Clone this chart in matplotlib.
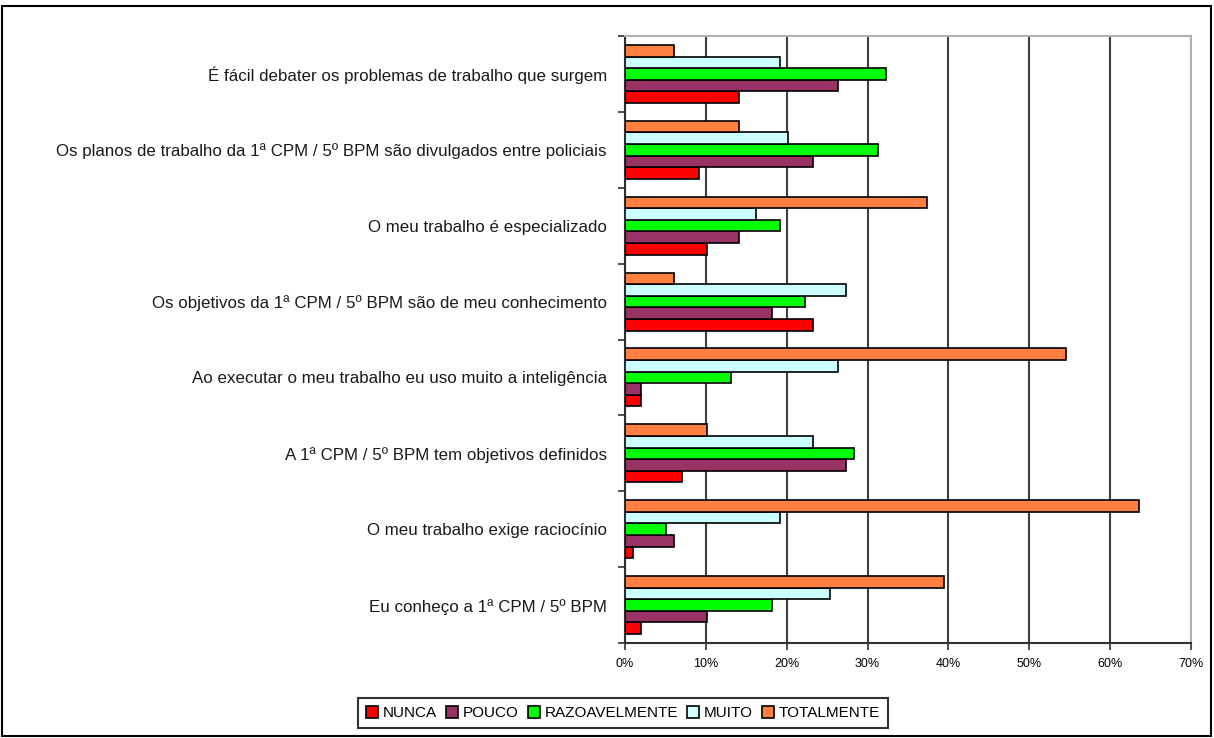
import matplotlib
matplotlib.use("Agg")
import matplotlib.pyplot as plt
import matplotlib.patches as mpatches
from matplotlib.ticker import FixedLocator, PercentFormatter
import numpy as np

# Statements, listed from bottom to top of the chart
categories = [
    "Eu conheço a 1ª CPM / 5º BPM",
    "O meu trabalho exige raciocínio",
    "A 1ª CPM / 5º BPM tem objetivos definidos",
    "Ao executar o meu trabalho eu uso muito a inteligência",
    "Os objetivos da 1ª CPM / 5º BPM são de meu conhecimento",
    "O meu trabalho é especializado",
    "Os planos de trabalho da 1ª CPM / 5º BPM são divulgados entre policiais",
    "É fácil debater os problemas de trabalho que surgem",
]

series_names = ["NUNCA", "POUCO", "RAZOAVELMENTE", "MUITO", "TOTALMENTE"]

nunca = [2.0, 1.0, 7.1, 2.0, 23.2, 10.1, 9.1, 14.1]
pouco = [10.1, 6.1, 27.3, 2.0, 18.2, 14.1, 23.2, 26.3]
razoavelmente = [18.2, 5.1, 28.3, 13.1, 22.2, 19.2, 31.3, 32.3]
muito = [25.3, 19.2, 23.2, 26.3, 27.3, 16.2, 20.2, 19.2]
totalmente = [39.4, 63.6, 10.1, 54.5, 6.1, 37.4, 14.1, 6.1]

x_ticks = [0, 10, 20, 30, 40, 50, 60, 70]

colors = ["#FF0000", "#993366", "#00FF00", "#CCFFFF", "#FF8040"]

plt.rcParams["font.family"] = ["Liberation Sans", "DejaVu Sans"]

fig = plt.figure(figsize=(12.14, 7.38), dpi=100)
ax = fig.add_axes([625 / 1214, 1 - 643 / 738, (1191 - 625) / 1214, (643 - 36) / 738])

all_series = [nunca, pouco, razoavelmente, muito, totalmente]
n_cat = len(categories)
y = np.arange(n_cat)
h = 0.153
for k, (name, vals, col) in enumerate(zip(series_names, all_series, colors)):
    ax.barh(y + (k - 2) * h, vals, height=h, color=col, edgecolor="black",
            linewidth=1.2, label=name, zorder=3)

ax.set_xlim(0, 70)
ax.set_ylim(-0.5, n_cat - 0.5)
ax.xaxis.set_major_locator(FixedLocator(x_ticks))
ax.xaxis.set_major_formatter(PercentFormatter(decimals=0))
ax.grid(axis="x", color="#404040", linewidth=1.5, zorder=1)

# group boundaries carry the tick marks, centres carry the labels
ax.yaxis.set_major_locator(FixedLocator(np.arange(-0.5, n_cat, 1.0)))
ax.set_yticklabels([])
ax.yaxis.set_minor_locator(FixedLocator(y))
ax.set_yticks(y, labels=categories, minor=True)
ax.tick_params(axis="y", which="minor", length=0, pad=13, labelsize=12.2, labelcolor="#1a1a1a")
ax.tick_params(axis="y", which="major", length=5, width=1.2, color="#303030")
ax.tick_params(axis="x", length=5, width=1.2, color="#303030", labelsize=9, pad=6)

for side in ("left", "bottom"):
    ax.spines[side].set_color("#303030")
    ax.spines[side].set_linewidth(1.5)
for side in ("top", "right"):
    ax.spines[side].set_color("#b0b0b0")
    ax.spines[side].set_linewidth(1.5)

leg = fig.legend(loc="center", bbox_to_anchor=(623 / 1214, 1 - 713 / 738), ncol=5,
                 frameon=True, fancybox=False, edgecolor="black", fontsize=11,
                 handlelength=0.8, handleheight=0.8, handletextpad=0.3,
                 columnspacing=0.6, borderpad=0.5)
leg.get_frame().set_linewidth(1.5)

fig.patches.append(mpatches.Rectangle((2 / 1214, 2 / 738), 1209 / 1214, 730 / 738,
                                      transform=fig.transFigure, fill=False,
                                      edgecolor="black", linewidth=1.5))

fig.savefig("out.png", dpi=100, facecolor="white")
